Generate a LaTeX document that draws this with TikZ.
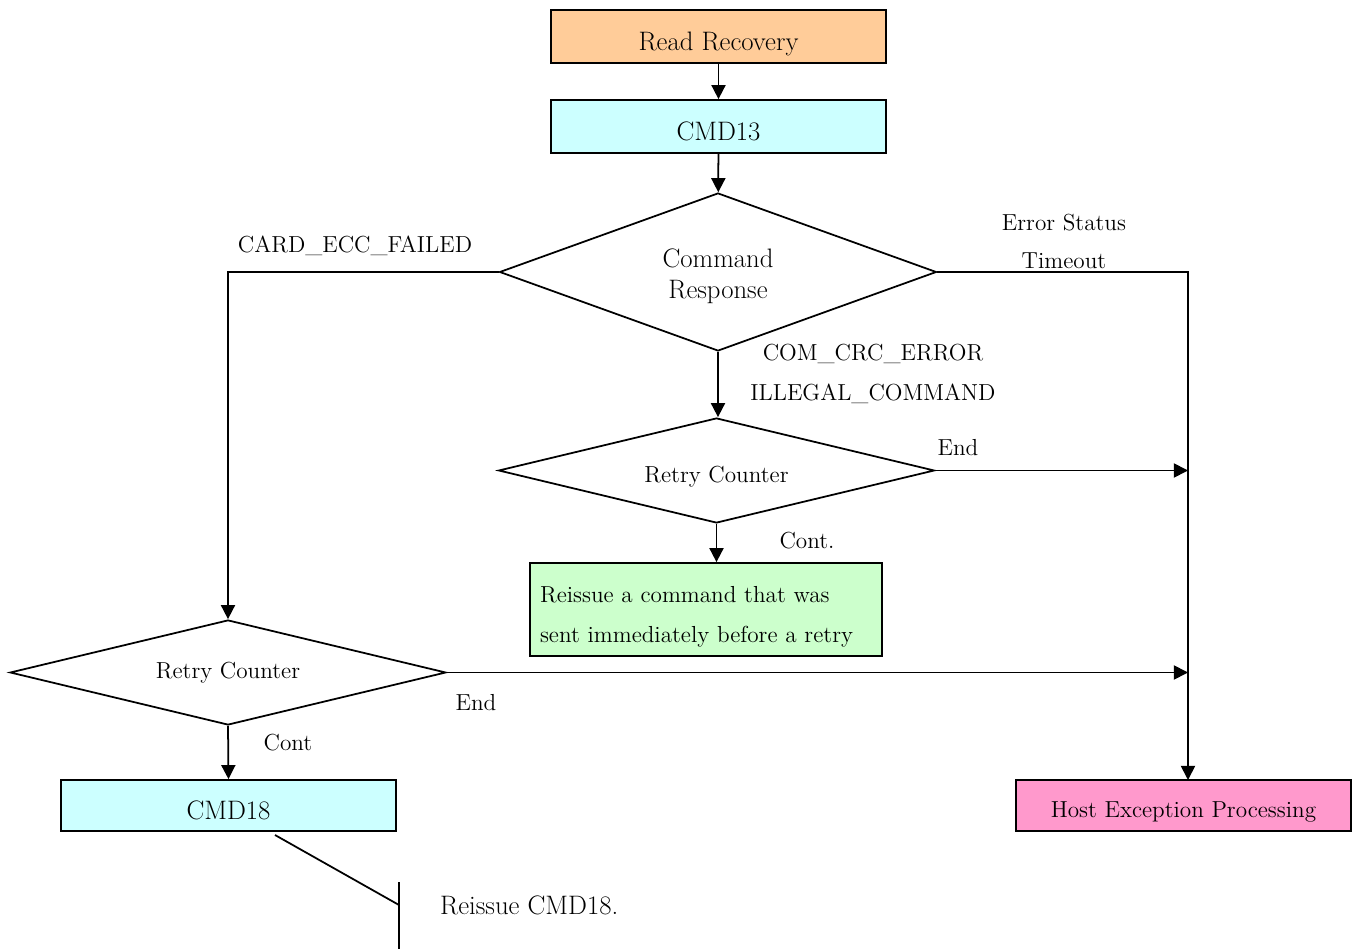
\documentclass[tikz,border=0pt]{standalone}
\usetikzlibrary{shapes.geometric, arrows.meta, positioning}
\definecolor{rrorange}{HTML}{FFCC99}
\definecolor{cmdcyan}{HTML}{CCFFFF}
\definecolor{retrygreen}{HTML}{CCFFCC}
\definecolor{hostpink}{HTML}{FF99CC}
\tikzset{
  bigtext/.style={font=\fontsize{15.2}{18.1}\selectfont},
  smalltext/.style={font=\fontsize{13.2}{16}\selectfont},
  lowbig/.style={bigtext, text height=15.5pt, text depth=0pt},
  lowsmall/.style={smalltext, text height=14.1pt, text depth=0pt},
  flowbox/.style={draw=black, line width=1pt, inner sep=0pt, minimum width=6.7cm, minimum height=1.06cm},
  decision/.style={diamond, draw=black, line width=1pt, inner sep=0pt, aspect=2.5},
  flow/.style={line width=1pt, -{Triangle[length=8pt,width=8pt]}},
  plain/.style={line width=1pt},
}
\begin{document}
\begin{tikzpicture}[x=0.02cm, y=-0.02cm]
  \useasboundingbox (0,0) rectangle (1357,949);

  % boxes
  \node[flowbox, fill=rrorange, lowbig] (rr) at (718.5,36.5) {Read Recovery};
  \node[flowbox, fill=cmdcyan, lowbig] (cmd13) at (718.5,126.5) {CMD13};
  \node[decision, minimum width=8.74cm, minimum height=3.16cm, bigtext, align=center] (resp) at (718,272)
      {\rule{0pt}{15.6pt}Command\\Response};
  \node[decision, minimum width=8.72cm, minimum height=2.1cm, lowsmall] (retryA) at (716.5,470.5) {Retry Counter};
  \node[flowbox, fill=retrygreen, minimum width=7.04cm, minimum height=1.86cm, font=\fontsize{13.2}{22.7}\selectfont,
        align=left, text width=6.64cm] (reissue) at (706,609.5)
      {\rule{0pt}{17.7pt}Reissue a command that was\\sent immediately before a retry};
  \node[decision, minimum width=8.72cm, minimum height=2.1cm, smalltext] (retryB) at (228,672.5) {Retry Counter};
  \node[flowbox, fill=cmdcyan, minimum height=1.02cm, lowbig] (cmd18) at (228.5,805.5) {CMD18};
  \node[flowbox, fill=hostpink, minimum height=1.02cm, lowsmall] (host) at (1183.5,805.5) {Host Exception Processing};

  % labels
  \node[smalltext] (eccLbl) at (355,246) {CARD\_ECC\_FAILED};
  \node[smalltext] (errLbl) at (1064,223) {Error Status};
  \node[smalltext] (toLbl) at (1064,261) {Timeout};
  \node[smalltext] (crcLbl) at (873,354) {COM\_CRC\_ERROR};
  \node[smalltext] (illLbl) at (873,394) {ILLEGAL\_COMMAND};
  \node[smalltext] (endA) at (958,448) {End};
  \node[smalltext] (contA) at (807,541) {Cont.};
  \node[smalltext] (endB) at (476,703) {End};
  \node[smalltext] (contB) at (288,743) {Cont};
  \node[bigtext, anchor=west] (note) at (434,905) {Reissue CMD18.};

  % connectors
  \draw[flow] (rr) -- (cmd13);
  \draw[flow] (cmd13) -- (resp);
  \draw[flow] (resp.west) -| (retryB.north);
  \coordinate (hostIn) at (1188,780);
  \draw[flow] (resp.east) -| (hostIn);
  \draw[flow] (resp.south) -- (resp.south |- retryA.north);
  \draw[flow] (retryA.east) -- (retryA.east -| hostIn);
  \draw[flow] (retryA.south) -- (retryA.south |- reissue.north);
  \draw[flow] (retryB.east) -- (retryB.east -| hostIn);
  \draw[flow] (retryB.south) -- (cmd18.north);

  % callout
  \coordinate (noteTip) at (275,835);
  \coordinate (barMid) at (399,905);
  \coordinate (barTop) at (399,882);
  \coordinate (barBot) at (399,949);
  \draw[plain] (noteTip) -- (barMid);
  \draw[plain] (barTop) -- (barBot);
\end{tikzpicture}
\end{document}
